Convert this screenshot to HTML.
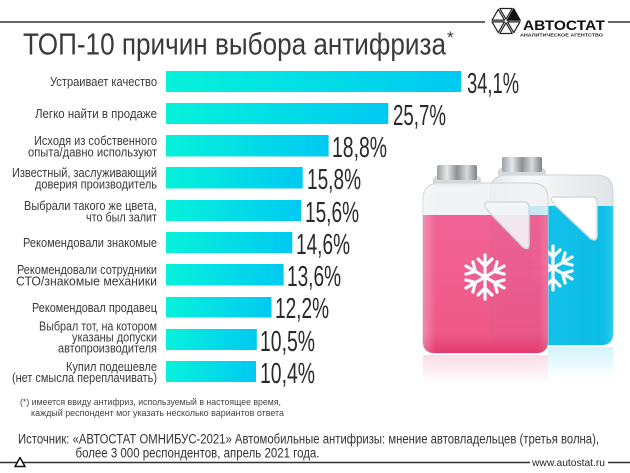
<!DOCTYPE html>
<html><head><meta charset="utf-8">
<style>
html,body{margin:0;padding:0;background:#fff;}
svg{display:block;}
text{font-family:"Liberation Sans","DejaVu Sans",sans-serif;}
</style></head><body>
<svg width="630" height="473" viewBox="0 0 630 473" xmlns="http://www.w3.org/2000/svg">
<defs>
<linearGradient id="bar" x1="0" x2="1" y1="0" y2="0">
<stop offset="0" stop-color="#06f2da"/><stop offset="1" stop-color="#00c9f2"/>
</linearGradient>
<linearGradient id="cap" x1="0" x2="1" y1="0" y2="0">
<stop offset="0" stop-color="#9a9ea2"/><stop offset="0.25" stop-color="#e6e8ea"/><stop offset="0.5" stop-color="#8c9094"/><stop offset="0.75" stop-color="#d8dadc"/><stop offset="1" stop-color="#7e8286"/>
</linearGradient>
<linearGradient id="upper" x1="0" x2="1" y1="0" y2="0">
<stop offset="0" stop-color="#e4e8ea"/><stop offset="0.3" stop-color="#f8f9fa"/><stop offset="1" stop-color="#dfe4e6"/>
</linearGradient>
<linearGradient id="blueLiq" x1="0" x2="1" y1="0" y2="0">
<stop offset="0" stop-color="#58d6f0"/><stop offset="0.12" stop-color="#18c4ec"/><stop offset="0.9" stop-color="#0cbde6"/><stop offset="1" stop-color="#39cdee"/>
</linearGradient>
<linearGradient id="pinkLiq" x1="0" x2="0" y1="0" y2="1">
<stop offset="0" stop-color="#f04e86"/><stop offset="0.85" stop-color="#ee4279"/><stop offset="1" stop-color="#e01c5a"/>
</linearGradient>
<linearGradient id="pinkHi" x1="0" x2="1" y1="0" y2="0">
<stop offset="0" stop-color="#fff" stop-opacity="0.35"/><stop offset="0.12" stop-color="#fff" stop-opacity="0"/><stop offset="0.9" stop-color="#fff" stop-opacity="0"/><stop offset="1" stop-color="#fff" stop-opacity="0.2"/>
</linearGradient>
<linearGradient id="reflP" x1="0" x2="0" y1="0" y2="1">
<stop offset="0" stop-color="#f06090" stop-opacity="0.22"/><stop offset="1" stop-color="#f06090" stop-opacity="0"/>
</linearGradient>
<linearGradient id="reflB" x1="0" x2="0" y1="0" y2="1">
<stop offset="0" stop-color="#20c4ea" stop-opacity="0.2"/><stop offset="1" stop-color="#20c4ea" stop-opacity="0"/>
</linearGradient>
<clipPath id="blueBody"><path d="M490,192 Q490,176 506,175 L598,175 Q613,176 613,192 L613,333 Q613,345 601,345 L502,345 Q490,345 490,333 Z"/></clipPath>
<clipPath id="pinkBody"><path d="M423,199 Q423,184 438,183 L533,183 Q548,184 548,199 L548,341 Q548,353 536,353 L435,353 Q423,353 423,341 Z"/></clipPath>
<g id="arm">
<path d="M0,0 L0,-22 M0,-11 L-7,-18 M0,-11 L7,-18" fill="none" stroke="#fff" stroke-width="3.2" stroke-linecap="round"/>
</g>
<g id="flake">
<use href="#arm"/>
<use href="#arm" transform="rotate(60)"/>
<use href="#arm" transform="rotate(120)"/>
<use href="#arm" transform="rotate(180)"/>
<use href="#arm" transform="rotate(240)"/>
<use href="#arm" transform="rotate(300)"/>
</g>
</defs>

<!-- top rule & logo -->
<line x1="0" y1="22" x2="485" y2="22" stroke="#333" stroke-width="1.4"/>
<line x1="608" y1="22" x2="630" y2="22" stroke="#333" stroke-width="1.4"/>
<g stroke="#222" stroke-width="1.2" fill="none" stroke-linejoin="round">
<polygon points="506,19.2 512.2,8.5 499.8,8.5"/>
<polygon points="504.45,20.1 498.25,9.4 492.05,20.1"/>
<polygon points="504.45,21.9 492.05,21.9 498.25,32.6"/>
<polygon points="506,22.8 499.8,33.5 512.2,33.5"/>
<polygon points="507.55,21.9 513.75,32.6 519.95,21.9"/>
</g>
<polygon points="507.2,20.3 520.3,20.3 513.75,8.6" fill="#111" stroke="#111" stroke-width="1"/>
<text x="523" y="30" font-size="14" font-weight="bold" fill="#111" textLength="82" lengthAdjust="spacingAndGlyphs">АВТОСТАТ</text>
<text x="520" y="36.5" font-size="4.6" font-weight="bold" fill="#222" textLength="83" lengthAdjust="spacingAndGlyphs">АНАЛИТИЧЕСКОЕ АГЕНТСТВО</text>

<!-- title -->
<text x="23" y="54.5" font-size="31" fill="#3a3a3a" textLength="423" lengthAdjust="spacingAndGlyphs">ТОП-10 причин выбора антифриза</text>
<text x="447" y="43" font-size="17" fill="#3a3a3a">*</text>

<!-- bars -->
<g fill="url(#bar)">
<rect x="166" y="71" width="295" height="21"/>
<rect x="166" y="103" width="222.3" height="21"/>
<rect x="166" y="135" width="162.6" height="21.5"/>
<rect x="166" y="167" width="136.7" height="21.5"/>
<rect x="166" y="200" width="135" height="21"/>
<rect x="166" y="232" width="126.3" height="21"/>
<rect x="166" y="264" width="117.6" height="21.5"/>
<rect x="166" y="297" width="105.5" height="20.5"/>
<rect x="166" y="329" width="90.8" height="21"/>
<rect x="166" y="361" width="90" height="21"/>
</g>

<!-- percentages -->
<g font-size="29" fill="#2a2a2a">
<text x="467" y="93" textLength="52" lengthAdjust="spacingAndGlyphs">34,1%</text>
<text x="393" y="125" textLength="53" lengthAdjust="spacingAndGlyphs">25,7%</text>
<text x="332" y="157" textLength="55" lengthAdjust="spacingAndGlyphs">18,8%</text>
<text x="307" y="189" textLength="54" lengthAdjust="spacingAndGlyphs">15,8%</text>
<text x="305" y="222" textLength="54" lengthAdjust="spacingAndGlyphs">15,6%</text>
<text x="296" y="254" textLength="54" lengthAdjust="spacingAndGlyphs">14,6%</text>
<text x="287" y="286" textLength="54" lengthAdjust="spacingAndGlyphs">13,6%</text>
<text x="275" y="318" textLength="54" lengthAdjust="spacingAndGlyphs">12,2%</text>
<text x="260" y="351" textLength="55" lengthAdjust="spacingAndGlyphs">10,5%</text>
<text x="260" y="383" textLength="55" lengthAdjust="spacingAndGlyphs">10,4%</text>
</g>

<!-- labels -->
<g font-size="12.5" fill="#3a3a3a" text-anchor="end">
<text x="157" y="86" textLength="107" lengthAdjust="spacingAndGlyphs">Устраивает качество</text>
<text x="157" y="118" textLength="122" lengthAdjust="spacingAndGlyphs">Легко найти в продаже</text>
<text x="157" y="145" textLength="123" lengthAdjust="spacingAndGlyphs">Исходя из собственного</text>
<text x="157" y="156.5" textLength="129" lengthAdjust="spacingAndGlyphs">опыта/давно используют</text>
<text x="157" y="177" textLength="145" lengthAdjust="spacingAndGlyphs">Известный, заслуживающий</text>
<text x="157" y="188.5" textLength="122" lengthAdjust="spacingAndGlyphs">доверия производитель</text>
<text x="157" y="210" textLength="133" lengthAdjust="spacingAndGlyphs">Выбрали такого же цвета,</text>
<text x="157" y="221.5" textLength="71" lengthAdjust="spacingAndGlyphs">что был залит</text>
<text x="157" y="247" textLength="134" lengthAdjust="spacingAndGlyphs">Рекомендовали знакомые</text>
<text x="157" y="274" textLength="140" lengthAdjust="spacingAndGlyphs">Рекомендовали сотрудники</text>
<text x="157" y="285.5" textLength="141" lengthAdjust="spacingAndGlyphs">СТО/знакомые механики</text>
<text x="157" y="312" textLength="125" lengthAdjust="spacingAndGlyphs">Рекомендовал продавец</text>
<text x="157" y="330.5" textLength="118" lengthAdjust="spacingAndGlyphs">Выбрал тот, на котором</text>
<text x="157" y="341.5" textLength="85" lengthAdjust="spacingAndGlyphs">указаны допуски</text>
<text x="157" y="352.5" textLength="99" lengthAdjust="spacingAndGlyphs">автопроизводителя</text>
<text x="157" y="371" textLength="91" lengthAdjust="spacingAndGlyphs">Купил подешевле</text>
<text x="157" y="382" textLength="145" lengthAdjust="spacingAndGlyphs">(нет смысла переплачивать)</text>
</g>

<!-- reflections -->
<rect x="423" y="355" width="125" height="30" fill="url(#reflP)"/>
<rect x="548" y="347" width="65" height="32" fill="url(#reflB)"/>

<!-- blue jug -->
<rect x="498" y="168" width="48" height="10" rx="4" fill="#d6dadd"/>
<rect x="502" y="157" width="40" height="15" rx="2" fill="url(#cap)"/>
<path d="M490,192 Q490,176 506,175 L598,175 Q613,176 613,192 L613,333 Q613,345 601,345 L502,345 Q490,345 490,333 Z" fill="url(#upper)" stroke="#cdd4d8" stroke-width="1"/>
<g clip-path="url(#blueBody)">
<rect x="488" y="206" width="128" height="142" fill="url(#blueLiq)"/>
</g>
<path d="M553,197 L592,197 Q597,197 597,202 L597,235 Q597,242 591,239 L556,206 Q549,199 553,197 Z" fill="#fff" stroke="#d4dadd" stroke-width="1.5"/>
<use href="#flake" transform="translate(553,268)"/>

<!-- pink jug -->
<rect x="433" y="176" width="48" height="10" rx="4" fill="#d6dadd"/>
<rect x="437" y="165" width="40" height="15" rx="2" fill="url(#cap)"/>
<path d="M423,199 Q423,184 438,183 L533,183 Q548,184 548,199 L548,341 Q548,353 536,353 L435,353 Q423,353 423,341 Z" fill="#eef1f3" fill-opacity="0.82" stroke="#cdd4d8" stroke-width="1"/>
<g clip-path="url(#pinkBody)">
<rect x="420" y="215" width="132" height="140" fill="url(#pinkLiq)" fill-opacity="0.87"/>
<rect x="420" y="183" width="132" height="172" fill="url(#pinkHi)"/>
</g>
<path d="M487,202 L524,202 Q529,202 529,207 L529,244 Q529,251 523,247 L489,212 Q482,204 487,202 Z" fill="#f4f6f7" fill-opacity="0.9" stroke="#d4dadd" stroke-width="1.5"/>
<use href="#flake" transform="translate(485,277)"/>

<!-- footnote -->
<g font-size="9.5" fill="#444">
<text x="20" y="405" textLength="261" lengthAdjust="spacingAndGlyphs">(*) имеется ввиду антифриз, используемый в настоящее время,</text>
<text x="31" y="416" textLength="253" lengthAdjust="spacingAndGlyphs">каждый респондент мог указать несколько вариантов ответа</text>
</g>
<g font-size="13.5" fill="#333">
<text x="18" y="443.5" textLength="581" lengthAdjust="spacingAndGlyphs">Источник: «АВТОСТАТ ОМНИБУС-2021» Автомобильные антифризы: мнение автовладельцев (третья волна),</text>
<text x="75.5" y="457.5" textLength="244" lengthAdjust="spacingAndGlyphs">более 3 000 респондентов, апрель 2021 года.</text>
</g>

<!-- bottom rule -->
<line x1="0" y1="462.5" x2="530" y2="462.5" stroke="#333" stroke-width="1.4"/>
<line x1="608" y1="462.5" x2="630" y2="462.5" stroke="#333" stroke-width="1.4"/>
<polygon points="20,457.5 15,466.5 25,466.5" fill="#fff" stroke="#111" stroke-width="1.5" stroke-linejoin="round"/>
<text x="532" y="466" font-size="10.5" fill="#222" textLength="73" lengthAdjust="spacingAndGlyphs">www.autostat.ru</text>
</svg>
</body></html>
